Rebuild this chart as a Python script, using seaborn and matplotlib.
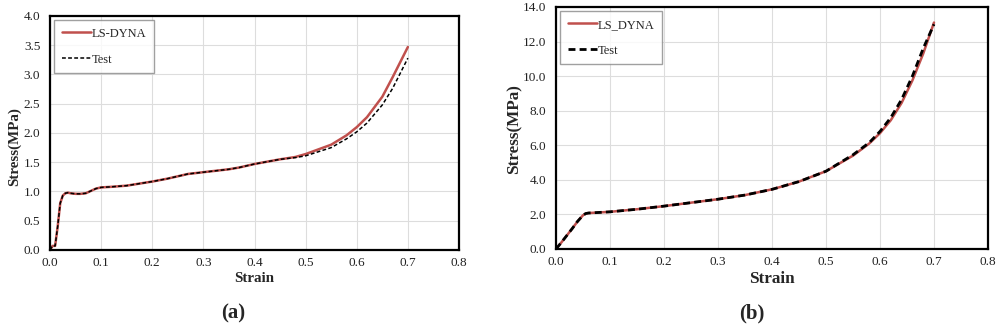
import numpy as np
import pandas as pd
import matplotlib
matplotlib.use('Agg')
import matplotlib.pyplot as plt
import seaborn as sns

# (a) stress-strain curves
strain_a = [0, 0.005, 0.01, 0.015, 0.02, 0.025, 0.03, 0.035, 0.04, 0.05, 0.06,
            0.07, 0.08, 0.09, 0.1, 0.12, 0.15, 0.2, 0.23, 0.27, 0.3, 0.35, 0.37,
            0.4, 0.45, 0.48, 0.5, 0.55, 0.58, 0.6, 0.62, 0.65, 0.67, 0.7]
dyna_a = [0, 0.07, 0.07, 0.4, 0.8, 0.93, 0.97, 0.98, 0.97, 0.96, 0.96,
          0.97, 1.01, 1.05, 1.07, 1.08, 1.1, 1.17, 1.22, 1.3, 1.33, 1.38, 1.41,
          1.47, 1.55, 1.59, 1.64, 1.8, 1.96, 2.1, 2.27, 2.62, 2.95, 3.47]
test_a = [0, 0.07, 0.07, 0.4, 0.8, 0.93, 0.97, 0.98, 0.97, 0.96, 0.96,
          0.97, 1.01, 1.05, 1.07, 1.08, 1.1, 1.17, 1.22, 1.3, 1.33, 1.38, 1.41,
          1.47, 1.55, 1.58, 1.61, 1.75, 1.9, 2.02, 2.17, 2.48, 2.76, 3.28]

# (b) stress-strain curves
strain_b = [0, 0.01, 0.02, 0.03, 0.04, 0.05, 0.055, 0.06, 0.1, 0.15, 0.2, 0.25,
            0.3, 0.35, 0.4, 0.45, 0.5, 0.55, 0.58, 0.6, 0.62, 0.64, 0.66, 0.68, 0.7]
dyna_b = [0, 0.38, 0.78, 1.18, 1.6, 1.95, 2.05, 2.08, 2.15, 2.3, 2.48, 2.68,
          2.88, 3.12, 3.45, 3.9, 4.5, 5.4, 6.1, 6.7, 7.45, 8.45, 9.75, 11.3, 13.1]
test_b = [0, 0.38, 0.78, 1.18, 1.6, 1.95, 2.05, 2.08, 2.15, 2.3, 2.48, 2.68,
          2.88, 3.12, 3.45, 3.9, 4.5, 5.45, 6.15, 6.8, 7.6, 8.65, 10.0, 11.6, 13.0]

x_ticks = [0.0, 0.1, 0.2, 0.3, 0.4, 0.5, 0.6, 0.7, 0.8]
y_ticks_a = [0.0, 0.5, 1.0, 1.5, 2.0, 2.5, 3.0, 3.5, 4.0]
y_ticks_b = [0.0, 2.0, 4.0, 6.0, 8.0, 10.0, 12.0, 14.0]

RED = '#C0504D'

sns.set_theme(style='whitegrid')
plt.rcParams['font.family'] = ['Liberation Serif', 'DejaVu Serif']


def draw_panel(ax, strain, dyna, test, dyna_name, y_ticks, test_lw,
               label_size, ylabel_xy):
    df = pd.DataFrame({'strain': strain, 'dyna': dyna, 'test': test})
    sns.lineplot(data=df, x='strain', y='dyna', ax=ax, color=RED, lw=1.8,
                 label=dyna_name, sort=False)
    sns.lineplot(data=df, x='strain', y='test', ax=ax, color='black', lw=test_lw,
                 ls=(0, (2.5, 1.5)), label='Test', sort=False)
    ax.set_xlim(0, 0.8)
    ax.set_ylim(y_ticks[0], y_ticks[-1])
    ax.set_xticks(x_ticks)
    ax.set_yticks(y_ticks)
    ax.set_xticklabels([f'{t:.1f}' for t in x_ticks], fontsize=9.5)
    ax.set_yticklabels([f'{t:.1f}' for t in y_ticks], fontsize=9.5)
    ax.tick_params(axis='x', length=0, pad=5, colors='#222222')
    ax.tick_params(axis='y', length=0, pad=7, colors='#222222')
    ax.grid(True, color='#dddddd', lw=0.8)
    for s in ax.spines.values():
        s.set_color('black')
        s.set_linewidth(1.6)
    ax.set_xlabel('Strain', fontsize=label_size, fontweight='bold', labelpad=2)
    ax.set_ylabel('Stress(MPa)', fontsize=label_size, fontweight='bold')
    ax.yaxis.set_label_coords(*ylabel_xy)
    leg = ax.legend(loc='upper left', fontsize=9, frameon=True, fancybox=False,
                    borderpad=0.6, labelspacing=1.1, handlelength=2.3,
                    handletextpad=0.1, borderaxespad=0.35)
    leg.get_frame().set_edgecolor('#888888')
    leg.get_frame().set_linewidth(1.0)


fig = plt.figure(figsize=(10, 3.34), dpi=100)
ax_a = fig.add_axes([0.050, 0.2515, 0.409, 0.7006])
ax_b = fig.add_axes([0.556, 0.2545, 0.432, 0.7246])

draw_panel(ax_a, strain_a, dyna_a, test_a, 'LS-DYNA', y_ticks_a, 1.1,
           10.8, (-0.07, 0.44))
draw_panel(ax_b, strain_b, dyna_b, test_b, 'LS_DYNA', y_ticks_b, 2.0,
           12.3, (-0.078, 0.496))

fig.text(0.233, 1 - 313 / 334, '(a)', ha='center', va='center',
         fontsize=15, fontweight='bold')
fig.text(0.752, 1 - 313 / 334, '(b)', ha='center', va='center',
         fontsize=15, fontweight='bold')

fig.savefig('out.png', dpi=100)
